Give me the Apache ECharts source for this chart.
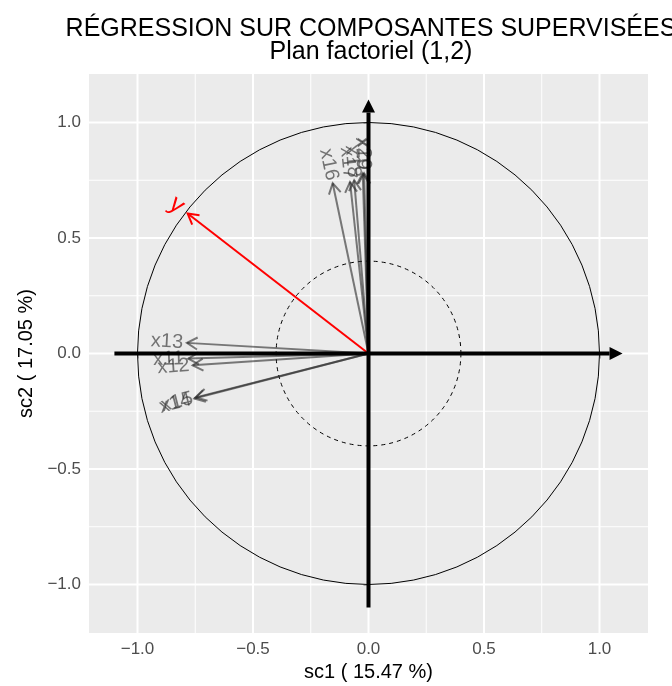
<!DOCTYPE html>
<html>
<head>
<meta charset="utf-8">
<script src="https://cdn.jsdelivr.net/npm/echarts@6/dist/echarts.min.js"></script>
<style>
  html, body { margin: 0; padding: 0; background: #fff; }
  #chart { width: 672px; height: 686px; }
</style>
</head>
<body>
<div id="chart"></div>
<script>
// variable loadings on the factorial plane (1,2)
const varNames = ['x11', 'x12', 'x13', 'x14', 'x15', 'x16', 'x17', 'x18', 'x19', 'x20']
const sc1 = [-0.780, -0.761, -0.786, -0.754, -0.747, -0.155, -0.080, -0.062, -0.025, -0.019]
const sc2 = [-0.022, -0.051, 0.046, -0.195, -0.190, 0.737, 0.743, 0.750, 0.780, 0.780]

// response variable
const respName = 'y'
const respSc1 = -0.783
const respSc2 = 0.606

// axes, circles and grid
const axisTicks = [-1, -0.5, 0, 0.5, 1]
const minorBreaks = [-0.75, -0.25, 0.25, 0.75]
const circleRadii = [1, 0.4]
const arrowAxes = [[-1.1, 0, 1.1, 0], [0, -1.1, 0, 1.1]]

const FONT = '"Liberation Sans", Arial, Helvetica, sans-serif'
const LABEL_SCALE = 1.11

const fmt = v => (v < 0 ? '\u2212' : '') + Math.abs(v).toFixed(1)

const chart = echarts.init(document.getElementById('chart'))

function renderGridLines(params, api) {
  const cs = params.coordSys
  const v = api.value(0)
  const vertical = api.value(1) === 0
  const major = api.value(2) === 1
  const p = api.coord([vertical ? v : 0, vertical ? 0 : v])
  const shape = vertical
    ? { x1: p[0], y1: cs.y, x2: p[0], y2: cs.y + cs.height }
    : { x1: cs.x, y1: p[1], x2: cs.x + cs.width, y2: p[1] }
  return {
    type: 'line',
    shape: shape,
    style: { stroke: '#fff', lineWidth: major ? 2 : 1 }
  }
}

function renderCircle(params, api) {
  const c = api.coord([0, 0])
  const r = api.size([api.value(2), 0])[0]
  const dashed = params.dataIndex === 1
  return {
    type: 'circle',
    shape: { cx: c[0], cy: c[1], r: r },
    style: { stroke: '#000', lineWidth: 1, fill: null, lineDash: dashed ? [4, 4] : null }
  }
}

function makeVector(o, t, lp, name, color, textColor, fontSize) {
  const dx = t[0] - o[0]
  const dy = t[1] - o[1]
  const len = Math.hypot(dx, dy)
  const ux = dx / len
  const uy = dy / len
  const h = 12
  const a = Math.PI / 6
  const ca = Math.cos(a)
  const sa = Math.sin(a)
  const w1 = [t[0] - h * (ux * ca - uy * sa), t[1] - h * (uy * ca + ux * sa)]
  const w2 = [t[0] - h * (ux * ca + uy * sa), t[1] - h * (uy * ca - ux * sa)]
  let ang = Math.atan2(-dy, dx)
  if (ang > Math.PI / 2) ang -= Math.PI
  if (ang < -Math.PI / 2) ang += Math.PI
  return {
    type: 'group',
    children: [
      { type: 'line', shape: { x1: o[0], y1: o[1], x2: t[0], y2: t[1] }, style: { stroke: color, lineWidth: 2 } },
      { type: 'polyline', shape: { points: [w1, t, w2] }, style: { stroke: color, lineWidth: 2, fill: null } },
      {
        type: 'text', x: lp[0], y: lp[1], rotation: ang,
        style: {
          text: name, x: 0, y: 0, align: 'center', verticalAlign: 'middle',
          fill: textColor, fontSize: fontSize, fontFamily: FONT
        }
      }
    ]
  }
}

function renderVars(params, api) {
  const x = api.value(0)
  const y = api.value(1)
  return makeVector(api.coord([0, 0]), api.coord([x, y]),
    api.coord([x * LABEL_SCALE, y * LABEL_SCALE]),
    varNames[params.dataIndex], 'rgba(40,40,40,0.6)', 'rgba(40,40,40,0.62)', 20)
}

function renderResp(params, api) {
  const x = api.value(0)
  const y = api.value(1)
  return makeVector(api.coord([0, 0]), api.coord([x, y]),
    api.coord([x * 1.06, y * 1.06]), respName, '#ff0000', '#ff0000', 25)
}

function renderAxisArrow(params, api) {
  const s = api.coord([api.value(0), api.value(1)])
  const e = api.coord([api.value(2), api.value(3)])
  const dx = e[0] - s[0]
  const dy = e[1] - s[1]
  const len = Math.hypot(dx, dy)
  const ux = dx / len
  const uy = dy / len
  const h = 13
  const w = 6.5
  const b = [e[0] - ux * h, e[1] - uy * h]
  return {
    type: 'group',
    children: [
      { type: 'line', shape: { x1: s[0], y1: s[1], x2: b[0], y2: b[1] }, style: { stroke: '#000', lineWidth: 4 } },
      {
        type: 'polygon',
        shape: { points: [e, [b[0] - uy * w, b[1] + ux * w], [b[0] + uy * w, b[1] - ux * w]] },
        style: { fill: '#000' }
      }
    ]
  }
}

const gridData = []
axisTicks.forEach(v => { gridData.push([v, 0, 1]); gridData.push([v, 1, 1]) })
minorBreaks.forEach(v => { gridData.push([v, 0, 0]); gridData.push([v, 1, 0]) })

const axisCommon = {
  type: 'value',
  min: -1.21,
  max: 1.21,
  nameLocation: 'middle',
  nameTextStyle: { color: '#000', fontSize: 20, fontFamily: FONT },
  axisLine: { show: false },
  splitLine: { show: false },
  axisTick: { show: true, length: 5, customValues: axisTicks, lineStyle: { color: '#333', width: 1.5 } },
  axisLabel: { customValues: axisTicks, color: '#4d4d4d', fontSize: 17, fontFamily: FONT, formatter: fmt }
}

const option = {
  backgroundColor: '#fff',
  animation: false,
  title: {
    text: 'RÉGRESSION SUR COMPOSANTES SUPERVISÉES\nPlan factoriel (1,2)',
    left: 366,
    top: 13,
    textAlign: 'center',
    textStyle: { color: '#000', fontSize: 25, fontWeight: 'normal', lineHeight: 23, fontFamily: FONT }
  },
  grid: {
    left: 89, top: 74, width: 559, height: 559,
    outerBoundsMode: 'none', containLabel: false,
    show: true, backgroundColor: '#ebebeb', borderWidth: 0
  },
  xAxis: Object.assign({}, axisCommon, {
    name: 'sc1 ( 15.47 %)',
    nameGap: 25,
    axisLabel: Object.assign({}, axisCommon.axisLabel, { margin: 8 })
  }),
  yAxis: Object.assign({}, axisCommon, {
    name: 'sc2 ( 17.05 %)',
    nameGap: 53,
    axisLabel: Object.assign({}, axisCommon.axisLabel, { margin: 8 })
  }),
  series: [
    { type: 'custom', renderItem: renderGridLines, data: gridData, silent: true, z: 1 },
    { type: 'custom', renderItem: renderCircle, data: circleRadii.map(r => [0, 0, r]), silent: true, z: 2 },
    { type: 'custom', renderItem: renderVars, data: varNames.map((n, i) => [sc1[i], sc2[i]]), silent: true, z: 3 },
    { type: 'custom', renderItem: renderResp, data: [[respSc1, respSc2]], silent: true, z: 4 },
    { type: 'custom', renderItem: renderAxisArrow, data: arrowAxes, silent: true, z: 5 }
  ]
}

chart.setOption(option)
</script>
</body>
</html>
